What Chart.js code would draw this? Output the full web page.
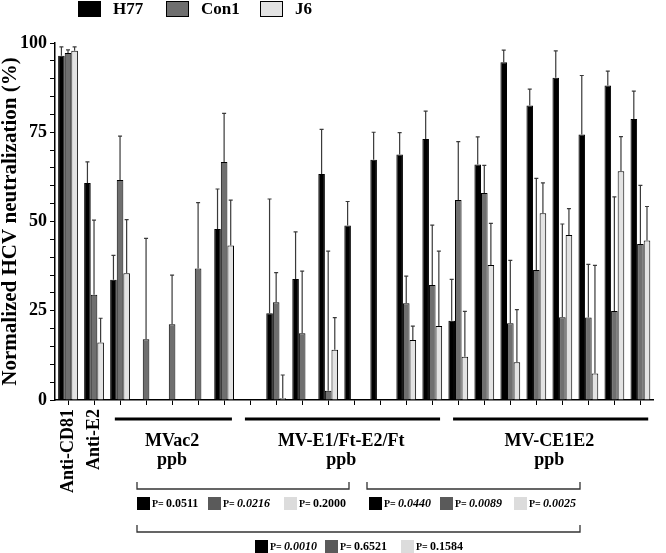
<!DOCTYPE html>
<html>
<head>
<meta charset="utf-8">
<script src="https://cdn.jsdelivr.net/npm/chart.js@4.4.0/dist/chart.umd.min.js"></script>
<style>body{margin:0;background:#fff}</style>
</head>
<body>
<canvas id="chart" width="666" height="553"></canvas>
<script>
// 23 columns: 2 controls, then the three immunisation groups
const categories = ['Anti-CD81', 'Anti-E2',
  'MVac2 1', 'MVac2 2', 'MVac2 3', 'MVac2 4', 'MVac2 5',
  'MV-E1/Ft-E2/Ft 1', 'MV-E1/Ft-E2/Ft 2', 'MV-E1/Ft-E2/Ft 3', 'MV-E1/Ft-E2/Ft 4',
  'MV-E1/Ft-E2/Ft 5', 'MV-E1/Ft-E2/Ft 6', 'MV-E1/Ft-E2/Ft 7', 'MV-E1/Ft-E2/Ft 8',
  'MV-CE1E2 1', 'MV-CE1E2 2', 'MV-CE1E2 3', 'MV-CE1E2 4',
  'MV-CE1E2 5', 'MV-CE1E2 6', 'MV-CE1E2 7', 'MV-CE1E2 8'];
const tickLabels = ['Anti-CD81', 'Anti-E2'];

const h77    = [96.4, 60.8, 33.7, 0, 0, 0, 47.9, 0, 24.3, 33.9, 63.3, 48.9, 67.3, 68.8, 73.1, 22.2, 66.0, 94.6, 82.5, 90.3, 74.4, 88.1, 78.7];
const h77Err = [2.5, 5.9, 6.8, 0, 0, 0, 11.2, 0, 32.0, 13.2, 12.5, 6.7, 7.7, 6.1, 7.8, 11.6, 7.7, 3.4, 4.6, 7.5, 16.5, 4.0, 7.8];
const con1    = [97.2, 29.5, 61.6, 17.0, 21.2, 36.8, 66.7, 0, 27.4, 18.7, 2.6, 0, 0, 27.1, 32.2, 56.0, 58.0, 21.5, 36.4, 23.2, 23.1, 24.9, 43.7];
const con1Err = [0.9, 20.9, 12.3, 28.3, 13.8, 18.5, 13.6, 0, 8.3, 17.4, 39.1, 0, 0, 7.6, 16.8, 16.4, 7.7, 17.6, 25.7, 26.1, 14.9, 32.0, 16.4];
const j6    = [97.8, 16.1, 35.5, 0, 0, 0, 43.3, 0, 0.5, 0, 14.1, 0, 0, 16.8, 20.7, 12.1, 37.8, 10.6, 52.3, 46.2, 7.4, 64.1, 44.7];
const j6Err = [1.1, 6.8, 15.0, 0, 0, 0, 12.7, 0, 6.5, 0, 9.0, 0, 0, 3.9, 21.0, 12.7, 11.7, 14.7, 8.5, 7.4, 30.3, 9.7, 9.5];

const groupNames = ['MVac2', 'MV-E1/Ft-E2/Ft', 'MV-CE1E2'];
const groupFirst = [2, 7, 15];
const groupLast  = [6, 14, 22];

const pRow1 = ['0.0511', '0.0216', '0.2000', '0.0440', '0.0089', '0.0025'];
const pRow1Italic = [false, true, false, true, true, true];
const pRow2 = ['0.0010', '0.6521', '0.1584'];
const pRow2Italic = [true, false, false];

const FONT = "'Liberation Serif', 'Times New Roman', serif";
const colors = ['#000000', '#6f6f6f', '#e3e3e3'];
const pColors = ['#000000', '#5a5a5a', '#dcdcdc'];

const errorBars = {
  id: 'errorBars',
  afterDatasetsDraw(chart) {
    const ctx = chart.ctx;
    const y = chart.scales.y;
    ctx.save();
    ctx.strokeStyle = '#3a3a3a';
    ctx.lineWidth = 1.2;
    chart.data.datasets.forEach((ds, di) => {
      const meta = chart.getDatasetMeta(di);
      meta.data.forEach((bar, i) => {
        const e = ds.errors[i];
        if (!e) return;
        const top = y.getPixelForValue(ds.data[i] + e);
        ctx.beginPath();
        ctx.moveTo(bar.x, bar.y);
        ctx.lineTo(bar.x, top);
        ctx.moveTo(bar.x - 2, top);
        ctx.lineTo(bar.x + 2, top);
        ctx.stroke();
      });
    });
    ctx.restore();
  }
};

function pItem(ctx, x, yc, color, value, italic) {
  ctx.fillStyle = color;
  ctx.fillRect(x, yc - 6, 13, 13);
  ctx.fillStyle = '#000';
  ctx.textAlign = 'left';
  ctx.textBaseline = 'middle';
  ctx.font = 'bold 10px ' + FONT;
  ctx.fillText('P=', x + 15, yc + 1);
  ctx.font = (italic ? 'italic ' : '') + 'bold 12px ' + FONT;
  ctx.fillText(value, x + 29, yc + 1);
}

function bracket(ctx, x1, x2, yb) {
  ctx.beginPath();
  ctx.moveTo(x1, yb - 7);
  ctx.lineTo(x1, yb);
  ctx.lineTo(x2, yb);
  ctx.lineTo(x2, yb - 7);
  ctx.stroke();
}

const annotations = {
  id: 'annotations',
  afterDraw(chart) {
    const ctx = chart.ctx;
    const x = chart.scales.x;
    ctx.save();

    // legend
    const legendX = [78, 166, 260];
    chart.data.datasets.forEach((ds, i) => {
      ctx.fillStyle = ds.backgroundColor;
      ctx.fillRect(legendX[i], 1, 23, 16);
      ctx.strokeStyle = '#000';
      ctx.lineWidth = 1;
      ctx.strokeRect(legendX[i] + 0.5, 1.5, 22, 15);
      ctx.fillStyle = '#000';
      ctx.font = 'bold 17px ' + FONT;
      ctx.textAlign = 'left';
      ctx.textBaseline = 'middle';
      ctx.fillText(ds.label, legendX[i] + 35, 10);
    });

    // group lines and names
    groupNames.forEach((name, g) => {
      const a = x.getPixelForValue(groupFirst[g] - 0.2);
      const b = Math.min(x.getPixelForValue(groupLast[g] + 0.3), chart.width - 3);
      ctx.strokeStyle = '#000';
      ctx.lineWidth = 3;
      ctx.beginPath();
      ctx.moveTo(a, 419);
      ctx.lineTo(b, 419);
      ctx.stroke();
      const c = x.getPixelForValue((groupFirst[g] + groupLast[g]) / 2);
      ctx.fillStyle = '#000';
      ctx.font = 'bold 18px ' + FONT;
      ctx.textAlign = 'center';
      ctx.textBaseline = 'alphabetic';
      ctx.fillText(name, c, 446);
      ctx.fillText('ppb', c, 465);
    });

    // brackets with p values
    ctx.strokeStyle = '#333';
    ctx.lineWidth = 1.3;
    bracket(ctx, 137, 349, 489);
    bracket(ctx, 367, 580, 489);
    bracket(ctx, 137, 580, 532);
    const row1X = [137, 208, 284, 369, 440, 514];
    pRow1.forEach((p, i) => pItem(ctx, row1X[i], 503, pColors[i % 3], p, pRow1Italic[i]));
    const row2X = [255, 325, 401];
    pRow2.forEach((p, i) => pItem(ctx, row2X[i], 546, pColors[i], p, pRow2Italic[i]));

    ctx.restore();
  }
};

const mk = (label, data, errors, color) => ({
  label, data, errors,
  backgroundColor: color,
  borderColor: '#000',
  borderWidth: 1,
  categoryPercentage: 0.76,
  barPercentage: 1.0
});

new Chart(document.getElementById('chart'), {
  type: 'bar',
  data: {
    labels: categories,
    datasets: [
      mk('H77', h77, h77Err, colors[0]),
      mk('Con1', con1, con1Err, colors[1]),
      mk('J6', j6, j6Err, colors[2])
    ]
  },
  options: {
    responsive: false,
    animation: false,
    layout: { padding: { top: 43, right: 0, left: 0, bottom: 0 } },
    plugins: { legend: { display: false }, tooltip: { enabled: false } },
    scales: {
      x: {
        afterFit(s) { s.height = 153; },
        grid: { offset: false, drawOnChartArea: false, tickLength: 5, color: '#000', lineWidth: 1 },
        border: { color: '#000', width: 1.5 },
        ticks: {
          autoSkip: false, minRotation: 90, maxRotation: 90, padding: 4, color: '#000',
          font: { family: FONT, size: 18, weight: 'bold' },
          callback: (v, i) => tickLabels[i] || ''
        }
      },
      y: {
        min: 0, max: 100,
        afterFit(s) { s.width = 55; },
        grid: { drawOnChartArea: false, tickLength: 5, color: '#000', lineWidth: 1 },
        border: { color: '#000', width: 1.5 },
        ticks: {
          stepSize: 5, autoSkip: false, padding: 3, color: '#000',
          font: { family: FONT, size: 18, weight: 'bold' },
          callback: v => (v % 25 === 0 ? v : '')
        },
        title: {
          display: true, text: 'Normalized HCV neutralization (%)', color: '#000',
          padding: 0, font: { family: FONT, size: 21, weight: 'bold', lineHeight: 1 }
        }
      }
    }
  },
  plugins: [errorBars, annotations]
});
</script>
</body>
</html>
